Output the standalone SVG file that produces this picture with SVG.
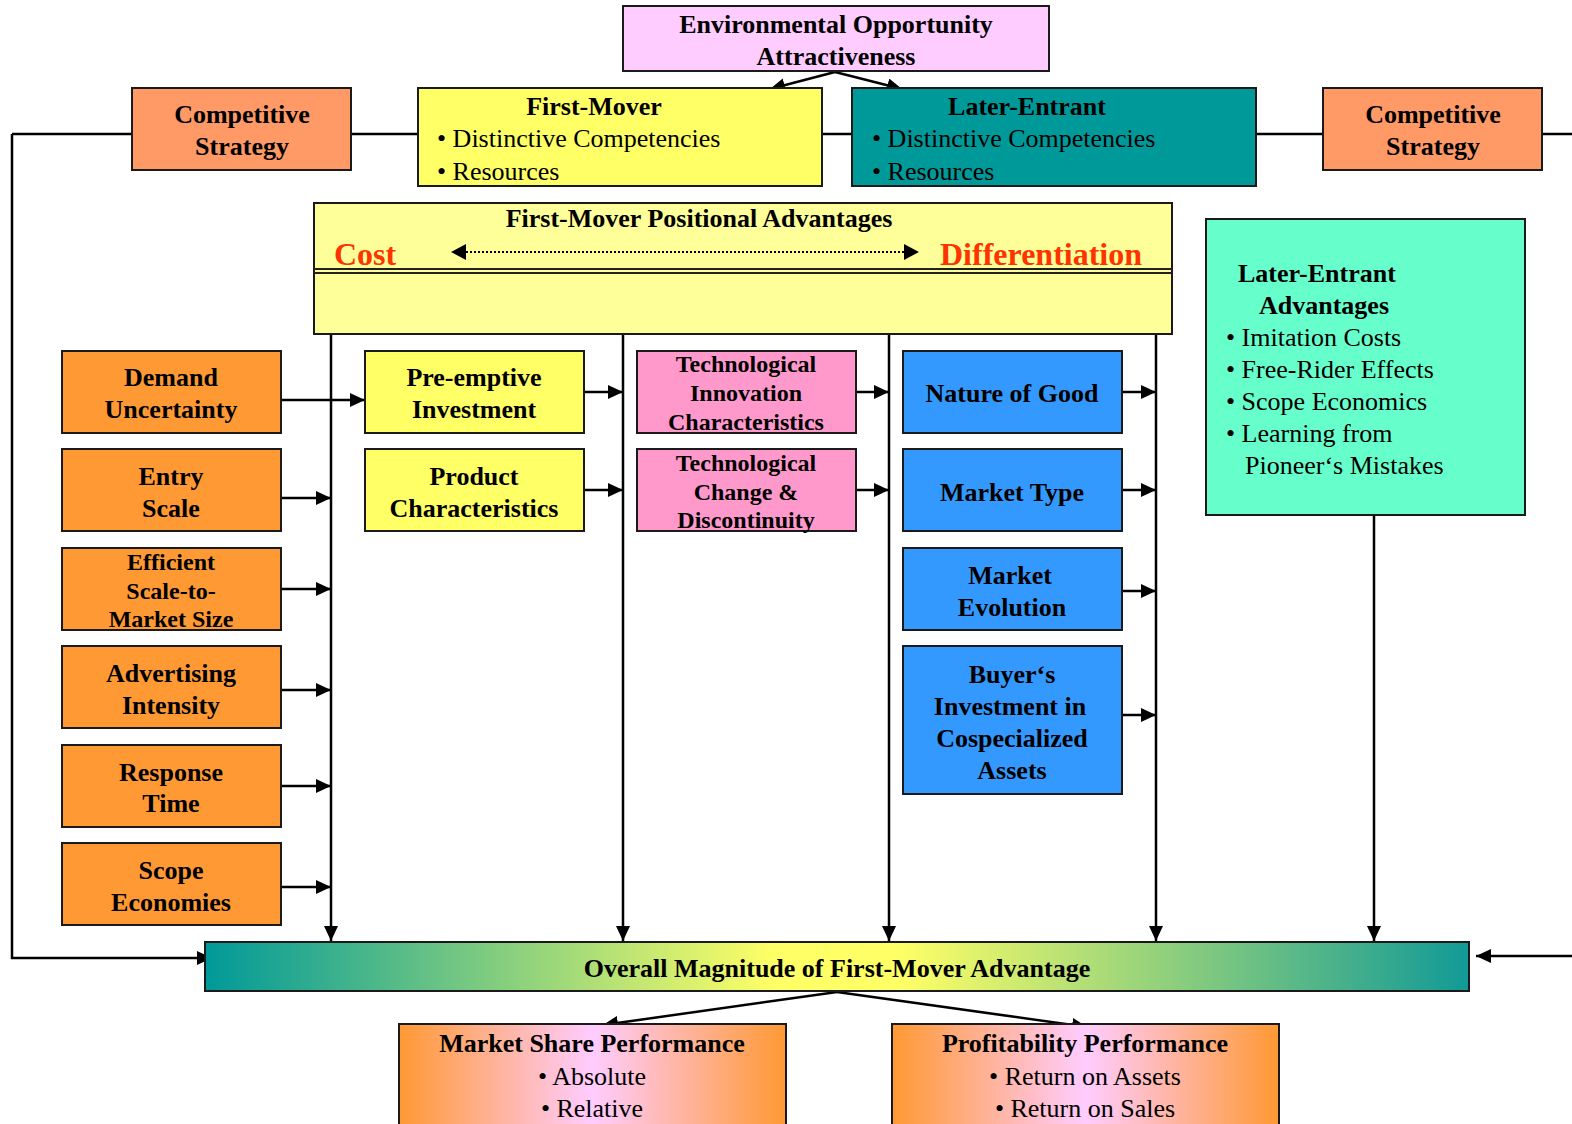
<svg xmlns="http://www.w3.org/2000/svg" width="1572" height="1124" viewBox="0 0 1572 1124">
<defs>
<marker id="arr" markerUnits="userSpaceOnUse" markerWidth="15" markerHeight="14" refX="15" refY="7" orient="auto"><path d="M0,0 L15,7 L0,14 z" fill="#000"/></marker>
<linearGradient id="gOverall" x1="0" y1="0" x2="1" y2="0">
<stop offset="0" stop-color="#009999"/><stop offset="0.45" stop-color="#FFFF66"/><stop offset="0.55" stop-color="#FFFF66"/><stop offset="1" stop-color="#129A96"/>
</linearGradient>
<linearGradient id="gPerf" x1="0" y1="0" x2="1" y2="0">
<stop offset="0" stop-color="#FF9933"/><stop offset="0.5" stop-color="#FFCCFF"/><stop offset="1" stop-color="#FF9933"/>
</linearGradient>
<style>
.box{stroke:#1a1a1a;stroke-width:2}
.b{font-family:"Liberation Serif","Times New Roman",serif;font-weight:bold;font-size:26px;fill:#000}
.s{font-size:24px}
.r{font-family:"Liberation Serif","Times New Roman",serif;font-size:26px;fill:#000}
.red{fill:#FF3300;font-size:32px}
.c{text-anchor:middle}
.ln{stroke:#000;stroke-width:2.5;fill:none}
</style>
</defs>

<g id="connectors">
<line class="ln" x1="12" y1="134" x2="132" y2="134"/>
<line class="ln" x1="351" y1="134" x2="418" y2="134"/>
<line class="ln" x1="822" y1="134" x2="852" y2="134"/>
<line class="ln" x1="1256" y1="134" x2="1323" y2="134"/>
<line class="ln" x1="1542" y1="134" x2="1572" y2="134"/>
<polyline class="ln" points="12,134 12,958 212,958" marker-end="url(#arr)"/>
<line class="ln" x1="1572" y1="956" x2="1476" y2="956" marker-end="url(#arr)"/>
<line class="ln" x1="835" y1="72" x2="770" y2="89" marker-end="url(#arr)"/>
<line class="ln" x1="835" y1="72" x2="902" y2="89" marker-end="url(#arr)"/>
<line class="ln" x1="331" y1="334" x2="331" y2="941" marker-end="url(#arr)"/>
<line class="ln" x1="623" y1="334" x2="623" y2="941" marker-end="url(#arr)"/>
<line class="ln" x1="889" y1="334" x2="889" y2="941" marker-end="url(#arr)"/>
<line class="ln" x1="1156" y1="334" x2="1156" y2="941" marker-end="url(#arr)"/>
<line class="ln" x1="1374" y1="515" x2="1374" y2="941" marker-end="url(#arr)"/>
<line class="ln" x1="281" y1="400" x2="365" y2="400" marker-end="url(#arr)"/>
<line class="ln" x1="281" y1="498" x2="331" y2="498" marker-end="url(#arr)"/>
<line class="ln" x1="281" y1="589" x2="331" y2="589" marker-end="url(#arr)"/>
<line class="ln" x1="281" y1="690" x2="331" y2="690" marker-end="url(#arr)"/>
<line class="ln" x1="281" y1="786" x2="331" y2="786" marker-end="url(#arr)"/>
<line class="ln" x1="281" y1="887" x2="331" y2="887" marker-end="url(#arr)"/>
<line class="ln" x1="584" y1="392" x2="623" y2="392" marker-end="url(#arr)"/>
<line class="ln" x1="584" y1="490" x2="623" y2="490" marker-end="url(#arr)"/>
<line class="ln" x1="856" y1="392" x2="889" y2="392" marker-end="url(#arr)"/>
<line class="ln" x1="856" y1="490" x2="889" y2="490" marker-end="url(#arr)"/>
<line class="ln" x1="1122" y1="392" x2="1156" y2="392" marker-end="url(#arr)"/>
<line class="ln" x1="1122" y1="490" x2="1156" y2="490" marker-end="url(#arr)"/>
<line class="ln" x1="1122" y1="591" x2="1156" y2="591" marker-end="url(#arr)"/>
<line class="ln" x1="1122" y1="715" x2="1156" y2="715" marker-end="url(#arr)"/>
<line class="ln" x1="837" y1="992" x2="603" y2="1025" marker-end="url(#arr)"/>
<line class="ln" x1="837" y1="992" x2="1087" y2="1027" marker-end="url(#arr)"/>
</g>

<g id="env">
<rect class="box" x="623" y="6" width="426" height="65" fill="#FFCCFF"/>
<text class="b c" x="836" y="33">Environmental Opportunity</text>
<text class="b c" x="836" y="65">Attractiveness</text>
</g>

<g id="cs-left">
<rect class="box" x="132" y="88" width="219" height="82" fill="#FF9966"/>
<text class="b c" x="242" y="123">Competitive</text>
<text class="b c" x="242" y="155">Strategy</text>
</g>

<g id="first-mover">
<rect class="box" x="418" y="88" width="404" height="98" fill="#FFFF66"/>
<text class="b c" x="594" y="115">First-Mover</text>
<text class="r" x="437" y="147">• Distinctive Competencies</text>
<text class="r" x="437" y="180">• Resources</text>
</g>

<g id="later-entrant">
<rect class="box" x="852" y="88" width="404" height="98" fill="#009999"/>
<text class="b c" x="1027" y="115">Later-Entrant</text>
<text class="r" x="872" y="147">• Distinctive Competencies</text>
<text class="r" x="872" y="180">• Resources</text>
</g>

<g id="cs-right">
<rect class="box" x="1323" y="88" width="219" height="82" fill="#FF9966"/>
<text class="b c" x="1433" y="123">Competitive</text>
<text class="b c" x="1433" y="155">Strategy</text>
</g>

<g id="positional">
<rect class="box" x="314" y="203" width="858" height="131" fill="#FFFF99"/>
<text class="b c" x="699" y="227">First-Mover Positional Advantages</text>
<text class="b red" x="334" y="265">Cost</text>
<text class="b red" x="940" y="265">Differentiation</text>
<line x1="466" y1="252" x2="904" y2="252" stroke="#000" stroke-width="2" stroke-dasharray="2,2"/>
<path d="M451,252 L466,244 L466,260 z" fill="#000"/>
<path d="M919,252 L904,244 L904,260 z" fill="#000"/>
<line x1="314" y1="269" x2="1172" y2="269" stroke="#222" stroke-width="2"/>
<line x1="314" y1="273" x2="1172" y2="273" stroke="#222" stroke-width="2"/>
</g>

<g id="demand">
<rect class="box" x="62" y="351" width="219" height="82" fill="#FF9933"/>
<text class="b c" x="171" y="386">Demand</text>
<text class="b c" x="171" y="418">Uncertainty</text>
</g>
<g id="entry">
<rect class="box" x="62" y="449" width="219" height="82" fill="#FF9933"/>
<text class="b c" x="171" y="485">Entry</text>
<text class="b c" x="171" y="517">Scale</text>
</g>
<g id="efficient">
<rect class="box" x="62" y="548" width="219" height="82" fill="#FF9933"/>
<text class="b s c" x="171" y="570">Efficient</text>
<text class="b s c" x="171" y="599">Scale-to-</text>
<text class="b s c" x="171" y="627">Market Size</text>
</g>
<g id="advertising">
<rect class="box" x="62" y="646" width="219" height="82" fill="#FF9933"/>
<text class="b c" x="171" y="682">Advertising</text>
<text class="b c" x="171" y="714">Intensity</text>
</g>
<g id="response">
<rect class="box" x="62" y="745" width="219" height="82" fill="#FF9933"/>
<text class="b c" x="171" y="781">Response</text>
<text class="b c" x="171" y="812">Time</text>
</g>
<g id="scope">
<rect class="box" x="62" y="843" width="219" height="82" fill="#FF9933"/>
<text class="b c" x="171" y="879">Scope</text>
<text class="b c" x="171" y="911">Economies</text>
</g>

<g id="preemptive">
<rect class="box" x="365" y="351" width="219" height="82" fill="#FFFF66"/>
<text class="b c" x="474" y="386">Pre-emptive</text>
<text class="b c" x="474" y="418">Investment</text>
</g>
<g id="product">
<rect class="box" x="365" y="449" width="219" height="82" fill="#FFFF66"/>
<text class="b c" x="474" y="485">Product</text>
<text class="b c" x="474" y="517">Characteristics</text>
</g>

<g id="tech-innovation">
<rect class="box" x="637" y="351" width="219" height="82" fill="#FF99CC"/>
<text class="b s c" x="746" y="372">Technological</text>
<text class="b s c" x="746" y="401">Innovation</text>
<text class="b s c" x="746" y="430">Characteristics</text>
</g>
<g id="tech-change">
<rect class="box" x="637" y="449" width="219" height="82" fill="#FF99CC"/>
<text class="b s c" x="746" y="471">Technological</text>
<text class="b s c" x="746" y="500">Change &amp;</text>
<text class="b s c" x="746" y="528">Discontinuity</text>
</g>

<g id="nature">
<rect class="box" x="903" y="351" width="219" height="82" fill="#3399FF"/>
<text class="b c" x="1012" y="402">Nature of Good</text>
</g>
<g id="market-type">
<rect class="box" x="903" y="449" width="219" height="82" fill="#3399FF"/>
<text class="b c" x="1012" y="501">Market Type</text>
</g>
<g id="market-evolution">
<rect class="box" x="903" y="548" width="219" height="82" fill="#3399FF"/>
<text class="b c" x="1010" y="584">Market</text>
<text class="b c" x="1012" y="616">Evolution</text>
</g>
<g id="buyers">
<rect class="box" x="903" y="646" width="219" height="148" fill="#3399FF"/>
<text class="b c" x="1012" y="683">Buyer‘s</text>
<text class="b c" x="1010" y="715">Investment in</text>
<text class="b c" x="1012" y="747">Cospecialized</text>
<text class="b c" x="1012" y="779">Assets</text>
</g>

<g id="later-adv">
<rect class="box" x="1206" y="219" width="319" height="296" fill="#66FFCC"/>
<text class="b" x="1238" y="282">Later-Entrant</text>
<text class="b" x="1259" y="314">Advantages</text>
<text class="r" x="1226" y="346">• Imitation Costs</text>
<text class="r" x="1226" y="378">• Free-Rider Effects</text>
<text class="r" x="1226" y="410">• Scope Economics</text>
<text class="r" x="1226" y="442">• Learning from</text>
<text class="r" x="1245" y="474">Pioneer‘s Mistakes</text>
</g>

<g id="overall">
<rect class="box" x="205" y="942" width="1264" height="49" fill="url(#gOverall)"/>
<text class="b c" x="837" y="977">Overall Magnitude of First-Mover Advantage</text>
</g>

<g id="market-share">
<rect class="box" x="399" y="1024" width="387" height="110" fill="url(#gPerf)"/>
<text class="b c" x="592" y="1052">Market Share Performance</text>
<text class="r c" x="592" y="1085">• Absolute</text>
<text class="r c" x="592" y="1117">• Relative</text>
</g>

<g id="profitability">
<rect class="box" x="892" y="1024" width="387" height="110" fill="url(#gPerf)"/>
<text class="b c" x="1085" y="1052">Profitability Performance</text>
<text class="r c" x="1085" y="1085">• Return on Assets</text>
<text class="r c" x="1085" y="1117">• Return on Sales</text>
</g>
</svg>
